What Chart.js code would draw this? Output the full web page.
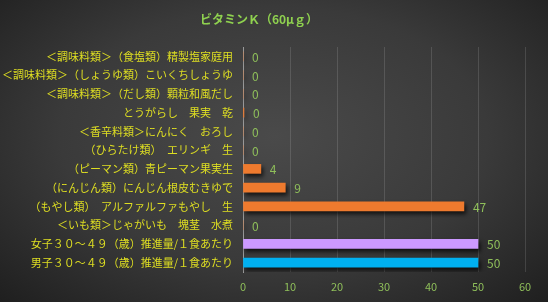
<!DOCTYPE html>
<html>
<head>
<meta charset="utf-8">
<script src="https://cdn.jsdelivr.net/npm/chart.js@4"></script>
<style>
  html, body { margin: 0; padding: 0; }
  body {
    width: 548px; height: 302px; overflow: hidden;
    background: radial-gradient(ellipse at 50% 45%, #4a4a4a 0%, #3a3a3a 55%, #1f1f1f 100%);
  }
  #wrap { position: relative; width: 548px; height: 302px; }
</style>
</head>
<body>
<div id="wrap"><canvas id="chart"></canvas></div>
<script>
// data
const categories = [
  "＜調味料類＞（食塩類）精製塩家庭用",
  "＜調味料類＞（しょうゆ類）こいくちしょうゆ",
  "＜調味料類＞（だし類）顆粒和風だし",
  "とうがらし　果実　乾",
  "＜香辛料類＞にんにく　おろし",
  "（ひらたけ類）　エリンギ　生",
  "（ピーマン類）青ピーマン果実生",
  "（にんじん類）にんじん根皮むきゆで",
  "（もやし類）　アルファルファもやし　生",
  "＜いも類＞じゃがいも　塊茎　水煮",
  "女子３０～４９（歳）推進量/１食あたり",
  "男子３０～４９（歳）推進量/１食あたり"
];
const values = [0, 0, 0, 0.2, 0, 0, 3.8, 9, 47, 0, 50, 50];
const xTicks = [0, 10, 20, 30, 40, 50, 60];
const title = "ビタミンＫ（60μｇ）";

// colours per bar
const barColors = categories.map((c, i) =>
  i === 10 ? "#cc99ff" : i === 11 ? "#00b0f0" : "#ee7a2e");

const FONT = "'Noto Sans CJK JP', 'Noto Sans', sans-serif";

// value labels + title
const labelPlugin = {
  id: "labels",
  afterDatasetsDraw(chart) {
    const ctx = chart.ctx;
    const meta = chart.getDatasetMeta(0);
    const xs = chart.scales.x;
    ctx.save();
    ctx.font = "12px " + FONT;
    ctx.fillStyle = "#8fbf5a";
    ctx.textBaseline = "middle";
    ctx.textAlign = "left";
    meta.data.forEach((bar, i) => {
      const end = Math.max(bar.x, xs.getPixelForValue(0));
      ctx.fillText(String(Math.round(values[i])), end + 9, bar.y + 1);
    });
    ctx.restore();
  },
  afterDraw(chart) {
    const ctx = chart.ctx;
    ctx.save();
    ctx.font = "bold 12px " + FONT;
    ctx.fillStyle = "#8fd14f";
    ctx.textAlign = "center";
    ctx.textBaseline = "middle";
    ctx.fillText(title, 259, 19);
    ctx.restore();
  }
};

// bar shadow
const shadowPlugin = {
  id: "shadow",
  beforeDatasetsDraw(chart) {
    const ctx = chart.ctx;
    ctx.save();
    ctx.shadowColor = "rgba(0,0,0,0.7)";
    ctx.shadowBlur = 4;
    ctx.shadowOffsetX = 2;
    ctx.shadowOffsetY = 3;
  },
  afterDatasetsDraw(chart) {
    chart.ctx.restore();
  }
};

new Chart(document.getElementById("chart"), {
  type: "bar",
  data: {
    labels: categories,
    datasets: [{
      data: values,
      backgroundColor: barColors,
      barThickness: 9
    }]
  },
  plugins: [shadowPlugin, labelPlugin],
  options: {
    indexAxis: "y",
    responsive: true,
    maintainAspectRatio: false,
    animation: false,
    layout: { padding: { top: 47, right: 23, left: 0, bottom: 0 } },
    plugins: { legend: { display: false }, tooltip: { enabled: false }, title: { display: false } },
    scales: {
      x: {
        min: 0, max: 60,
        afterBuildTicks(axis) { axis.ticks = xTicks.map(v => ({ value: v })); },
        afterFit(axis) { axis.height = 30; },
        grid: { color: "rgba(255,255,255,0.13)", drawTicks: false },
        border: { display: false },
        ticks: { color: "#8fbf5a", font: { family: FONT, size: 11 }, padding: 8 }
      },
      y: {
        afterFit(axis) { axis.width = 243; },
        grid: { display: false, drawTicks: false },
        border: { display: true, color: "#9a9a9a", width: 1 },
        ticks: { color: "#dede22", font: { family: FONT, size: 11 }, padding: 10, autoSkip: false }
      }
    }
  }
});
</script>
</body>
</html>
